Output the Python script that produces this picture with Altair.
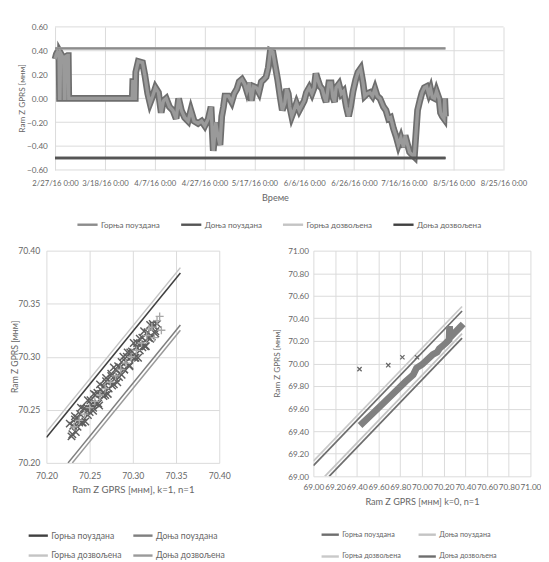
import altair as alt
import pandas as pd

FONT = "Lato"
TEXT = "#666666"
GRID = "#d9d9d9"

limit_names = ["Горња поуздана", "Доња поуздана", "Горња дозвољена", "Доња дозвољена"]
y_title = "Ram Z GPRS [мнм]"

# ---------------- top panel (time series) ----------------
ts_days = [0, 0.5, 1, 1.6, 1.8, 2.0, 2.2, 3.0, 3.5, 3.7, 4.0, 4.2, 5.0, 5.3, 5.5,
           31.0, 31.2, 31.6, 31.8, 32.2, 32.4, 33.4, 35.1, 36, 37.2, 38.1, 39.2, 40.3,
           41.5, 42.6, 43.5, 44.6, 45.9, 47.3, 48.6, 49.6, 50.7, 52, 53.4, 54.5, 55.8,
           57.4, 58.8, 60.1, 61.5, 62.6, 63.5, 64.5, 65.3, 66.2, 66.9, 67.6, 68.2, 69.6,
           70.9, 71.9, 73, 73.9, 75, 76.1, 77, 78, 78.8, 79.7, 80.8, 81.8, 82.8, 83.8,
           84.7, 85.6, 86.4, 87.4, 88.4, 89.4, 90.3, 91.2, 92.2, 92.9, 93.6, 94.2, 95,
           95.9, 96.9, 98, 99, 100, 100.9, 102, 103.1, 104, 104.7, 105.4, 106.4, 107.2,
           108.1, 108.8, 109.9, 110.8, 111.5, 112.2, 112.8, 113.9, 114.9, 115.8, 116.9,
           117.8, 118.6, 119.6, 120.7, 121.6, 122.6, 123.6, 124.3, 125.3, 126.4, 127.4,
           128.4, 129.3, 130.4, 131.8, 132.8, 133.8, 134.7, 135.8, 136.9, 137.8, 138.8,
           139.9, 140.5, 141.5, 142.3, 143.2, 144.2, 144.9, 145.5, 146.4, 147.3, 148.2,
           149.1, 150, 150.7, 151.4, 152.3, 153.1, 154.1, 154.7, 155.4, 156.1, 156.4, 156.7]
ts_vals = [0.33, 0.37, 0.39, 0.38, 0.0, 0.0, 0.38, 0.35, 0.30, 0.0, 0.0, 0.35, 0.36, 0.36, 0.0,
           0.0, 0.14, 0.14, 0.0, 0.0, 0.22, 0.31, 0.30, 0.20, 0.04, -0.04, 0.02, 0.09,
           0.05, -0.12, -0.02, 0.0, -0.07, -0.10, -0.17, 0.0, -0.10, -0.16, -0.19, -0.10, -0.19,
           -0.21, -0.19, -0.23, -0.17, -0.07, -0.44, -0.20, -0.31, -0.39, -0.15, -0.07, 0.02, 0.02,
           -0.03, 0.04, 0.08, 0.14, 0.16, 0.12, 0.06, 0.13, -0.02, 0.10, 0.09, 0.05, 0.14, 0.16,
           0.18, 0.26, 0.40, 0.39, 0.27, 0.15, 0.02, -0.10, -0.04, 0.08, 0.04, -0.07, -0.15,
           -0.10, -0.04, -0.10, -0.06, -0.02, 0.05, 0.09, 0.04, 0.09, 0.21, 0.16, 0.10, 0.08,
           0.01, -0.03, 0.13, 0.13, 0.01, -0.03, 0.09, 0.12, 0.04, 0.06, -0.07,
           -0.15, -0.07, 0.06, 0.16, 0.22, 0.25, 0.13, 0.02, 0.04, 0.05, 0.02,
           0.08, 0.02, 0.0, -0.07, -0.10, -0.17, -0.16, -0.25, -0.32, -0.39, -0.33,
           -0.41, -0.31, -0.39, -0.45, -0.47, -0.49, -0.28, -0.10, -0.02, 0.05, 0.09,
           0.10, 0.04, 0.08, 0.01, 0.0, 0.06, 0.0, -0.12, -0.15, -0.17, 0.0, -0.15]
top_limit_values = [0.42, -0.50, 0.42, -0.50]
top_limit_end_day = 156.7
top_colors = ["#8c8c8c", "#555555", "#c4c4c4", "#404040"]
top_tick_days = [0, 20, 40, 60, 80, 100, 120, 140, 160, 180]
top_y_ticks = [-0.6, -0.4, -0.2, 0.0, 0.2, 0.4, 0.6]

start = pd.Timestamp("2016-02-27")
top_df = pd.DataFrame({"date": [start + pd.Timedelta(days=d) for d in ts_days], "val": ts_vals})
top_lim_df = pd.DataFrame({
    "name": limit_names,
    "value": top_limit_values,
    "start": [start] * 4,
    "end": [start + pd.Timedelta(days=top_limit_end_day)] * 4,
}).iloc[[2, 3, 0, 1]]
top_grid_df = pd.DataFrame({"value": top_y_ticks, "start": [start] * 7,
                            "end": [start + pd.Timedelta(days=top_tick_days[-1])] * 7})

tick_dates = [start + pd.Timedelta(days=d) for d in top_tick_days]
tick_dt = [alt.DateTime(year=t.year, month=t.month, date=t.day) for t in tick_dates]

# the plot area starts a little before the first tick (as in the original Excel layout)
x_scale_top = alt.Scale(domain=[alt.DateTime(year=2016, month=2, date=23, hours=12, minutes=48),
                                tick_dt[-1]])
x_axis_top = alt.Axis(values=tick_dt, format="%-m/%-d/%y %-H:%M", labelOverlap=False,
                      labelFlush=False, labelFontSize=8, labelPadding=10, title="Време",
                      titleFontSize=9.5, titlePadding=6, grid=True)
y_scale_top = alt.Scale(domain=[-0.6, 0.6], nice=False)
y_axis_top = alt.Axis(values=top_y_ticks, format=".2f", labelFontSize=8.5, labelPadding=-1,
                      title=None, grid=False)

anchor_top = alt.Chart(pd.DataFrame({"k": [0]})).mark_rule(strokeOpacity=0).encode(
    x=alt.value(-40), x2=alt.value(-39), y=alt.value(60))
top_ytitle = alt.Chart(pd.DataFrame({"k": [0]})).mark_text(
    text=y_title, angle=270, fontSize=8.5, color=TEXT, align="center", baseline="middle").encode(
    x=alt.value(-25.3), y=alt.value(74.5))

top_grid = alt.Chart(top_grid_df).mark_rule(strokeWidth=1, color=GRID).encode(
    x=alt.X("start:T", scale=x_scale_top, axis=x_axis_top),
    x2="end:T",
    y=alt.Y("value:Q", scale=y_scale_top, axis=y_axis_top),
)
top_rules = alt.Chart(top_lim_df).mark_rule(strokeWidth=2.5).encode(
    x=alt.X("start:T", scale=x_scale_top, axis=x_axis_top),
    x2="end:T",
    y=alt.Y("value:Q", scale=y_scale_top, axis=y_axis_top),
    color=alt.Color("name:N", scale=alt.Scale(domain=limit_names, range=top_colors),
                    legend=alt.Legend(orient="none", legendX=30.8, legendY=194, direction="horizontal",
                                      title=None, symbolType="stroke", symbolSize=441,
                                      symbolStrokeWidth=2.5, labelFontSize=8.4, labelOffset=2,
                                      columnPadding=16, padding=0)),
)
top_line_dark = alt.Chart(top_df).mark_line(strokeWidth=7, color="#6e6e6e").encode(
    x=alt.X("date:T", scale=x_scale_top, axis=x_axis_top),
    y=alt.Y("val:Q", scale=y_scale_top, axis=y_axis_top),
)
top_line_light = alt.Chart(top_df).mark_line(strokeWidth=3.5, color="#9a9a9a").encode(
    x=alt.X("date:T", scale=x_scale_top, axis=x_axis_top),
    y=alt.Y("val:Q", scale=y_scale_top, axis=y_axis_top),
)
top = alt.layer(anchor_top, top_ytitle, top_grid, top_line_dark, top_line_light,
                top_rules).properties(width=476, height=149)

# ---------------- bottom-left panel ----------------
bl_ticks = [70.20, 70.25, 70.30, 70.35, 70.40]
bl_dark_x = [70.227, 70.229, 70.231, 70.233, 70.234, 70.236, 70.238, 70.240, 70.241, 70.243,
             70.245, 70.247, 70.248, 70.250, 70.252, 70.254, 70.255, 70.257, 70.259, 70.261,
             70.262, 70.264, 70.266, 70.268, 70.269, 70.271, 70.273, 70.275, 70.276, 70.278,
             70.280, 70.282, 70.283, 70.285, 70.287, 70.289, 70.290, 70.292, 70.294, 70.296,
             70.297, 70.299, 70.301, 70.303, 70.304, 70.306, 70.308, 70.310, 70.311, 70.313,
             70.315, 70.317, 70.318, 70.320, 70.322, 70.324, 70.326, 70.328]
bl_dark_y = [70.237, 70.225, 70.235, 70.244, 70.229, 70.242, 70.238, 70.252, 70.238, 70.251,
             70.239, 70.252, 70.259, 70.248, 70.255, 70.249, 70.265, 70.256, 70.266, 70.254,
             70.274, 70.265, 70.272, 70.264, 70.280, 70.265, 70.277, 70.284, 70.273, 70.290,
             70.280, 70.276, 70.291, 70.290, 70.283, 70.300, 70.288, 70.295, 70.304, 70.291,
             70.304, 70.300, 70.313, 70.299, 70.309, 70.299, 70.317, 70.312, 70.309, 70.324,
             70.310, 70.323, 70.318, 70.330, 70.319, 70.329, 70.322, 70.331]
bl_mid_x = [70.230, 70.233, 70.236, 70.239, 70.242, 70.245, 70.248, 70.251, 70.254, 70.257,
            70.260, 70.263, 70.266, 70.269, 70.272, 70.275, 70.278, 70.281, 70.284, 70.287,
            70.290, 70.293, 70.296, 70.299, 70.302, 70.305, 70.308, 70.311, 70.314, 70.317,
            70.320, 70.323, 70.326]
bl_mid_y = [70.227, 70.241, 70.234, 70.246, 70.238, 70.251, 70.245, 70.259, 70.252, 70.264,
            70.256, 70.269, 70.263, 70.277, 70.270, 70.282, 70.274, 70.287, 70.281, 70.295,
            70.288, 70.300, 70.292, 70.305, 70.299, 70.313, 70.306, 70.318, 70.310, 70.323,
            70.317, 70.331, 70.324]
bl_light_x = [70.232, 70.238, 70.244, 70.250, 70.256, 70.262, 70.268, 70.274, 70.280, 70.286,
              70.292, 70.298, 70.304, 70.310, 70.316, 70.322, 70.328, 70.331, 70.325, 70.319, 70.333]
bl_light_y = [70.234, 70.240, 70.246, 70.252, 70.258, 70.264, 70.270, 70.276, 70.282, 70.288,
              70.294, 70.300, 70.306, 70.313, 70.320, 70.328, 70.334, 70.338, 70.318, 70.326, 70.325]
bl_lim_x0 = [70.200, 70.225, 70.200, 70.230]
bl_lim_y0 = [70.224, 70.200, 70.229, 70.200]
bl_lim_x1 = [70.355, 70.355, 70.355, 70.355]
bl_lim_y1 = [70.379, 70.330, 70.384, 70.325]
bl_colors = ["#404040", "#7f7f7f", "#c4c4c4", "#9a9a9a"]

bl_lim_df = pd.DataFrame({"name": limit_names, "x0": bl_lim_x0, "y0": bl_lim_y0,
                          "x1": bl_lim_x1, "y1": bl_lim_y1}).iloc[[2, 0, 1, 3]]
bl_dark_df = pd.DataFrame({"x": bl_dark_x + bl_mid_x, "y": bl_dark_y + bl_mid_y})
bl_light_df = pd.DataFrame({"x": bl_light_x, "y": bl_light_y})

bl_xs = alt.Scale(domain=[70.20, 70.40], nice=False)
bl_ys = alt.Scale(domain=[70.20, 70.40], nice=False)
bl_xa = alt.Axis(values=bl_ticks, format=".2f", labelFontSize=9, labelPadding=9, grid=True,
                 title="Ram Z GPRS [мнм], k=1, n=1", titleFontSize=10, titlePadding=5, labelFlush=False)
bl_ya = alt.Axis(values=bl_ticks, format=".2f", labelFontSize=9, labelPadding=7, grid=True,
                 title=None)

X_PATH = "M-1,-1L1,1M-1,1L1,-1"
P_PATH = "M-1,0L1,0M0,-1L0,1"

anchor_bl = alt.Chart(pd.DataFrame({"k": [0]})).mark_rule(strokeOpacity=0).encode(
    x=alt.value(-40), x2=alt.value(-39), y=alt.value(100))
bl_ytitle = alt.Chart(pd.DataFrame({"k": [0]})).mark_text(
    text=y_title, angle=270, fontSize=9, color=TEXT, align="center", baseline="middle").encode(
    x=alt.value(-33), y=alt.value(110.5))

bl_rules = alt.Chart(bl_lim_df).mark_rule(strokeWidth=1.6, clip=True).encode(
    x=alt.X("x0:Q", scale=bl_xs, axis=bl_xa), x2="x1:Q",
    y=alt.Y("y0:Q", scale=bl_ys, axis=bl_ya), y2="y1:Q",
    color=alt.Color("name:N", scale=alt.Scale(domain=limit_names, range=bl_colors),
                    legend=alt.Legend(orient="none", legendX=-20, legendY=285, direction="horizontal",
                                      columns=2, title=None, symbolType="stroke", symbolSize=400,
                                      symbolStrokeWidth=2.5, labelFontSize=9, labelOffset=2,
                                      columnPadding=6, rowPadding=4, padding=0)),
)
bl_dark = alt.Chart(bl_dark_df).mark_point(shape=X_PATH, size=60, filled=False, strokeWidth=1.5,
                                           color="#5e5e5e", opacity=1).encode(
    x=alt.X("x:Q", scale=bl_xs, axis=bl_xa), y=alt.Y("y:Q", scale=bl_ys, axis=bl_ya))
bl_light = alt.Chart(bl_light_df).mark_point(shape=P_PATH, size=70, filled=False, strokeWidth=1.4,
                                             color="#a8a8a8", opacity=1).encode(
    x=alt.X("x:Q", scale=bl_xs, axis=bl_xa), y=alt.Y("y:Q", scale=bl_ys, axis=bl_ya))
bottom_left = alt.layer(anchor_bl, bl_ytitle, bl_rules, bl_dark, bl_light).properties(width=180, height=221)

# ---------------- bottom-right panel ----------------
br_ticks = [69.0, 69.2, 69.4, 69.6, 69.8, 70.0, 70.2, 70.4, 70.6, 70.8, 71.0]
br_band_x = [69.43, 69.55, 69.70, 69.85, 69.92, 69.95, 70.00, 70.10, 70.14, 70.16, 70.22,
             70.25, 70.255, 70.26, 70.30, 70.35, 70.38]
br_band_y = [69.45, 69.56, 69.70, 69.84, 69.90, 69.96, 69.99, 70.08, 70.10, 70.13, 70.18,
             70.21, 70.33, 70.23, 70.27, 70.32, 70.35]
br_out_x = [69.425, 69.69, 69.82, 69.955]
br_out_y = [69.95, 69.985, 70.055, 70.055]
br_lim_x0 = [69.000, 69.105, 69.000, 69.145]
br_lim_y0 = [69.095, 69.000, 69.135, 69.000]
br_lim_x1 = [70.370, 70.370, 70.370, 70.370]
br_lim_y1 = [70.465, 70.265, 70.505, 70.225]
br_colors = ["#6e6e6e", "#c4c4c4", "#c9c9c9", "#6e6e6e"]

br_lim_df = pd.DataFrame({"name": limit_names, "x0": br_lim_x0, "y0": br_lim_y0,
                          "x1": br_lim_x1, "y1": br_lim_y1})
br_band_df = pd.DataFrame({"x": br_band_x, "y": br_band_y, "o": list(range(len(br_band_x)))})
br_out_df = pd.DataFrame({"x": br_out_x, "y": br_out_y})

br_xs = alt.Scale(domain=[69.0, 71.0], nice=False)
br_ys = alt.Scale(domain=[69.0, 71.0], nice=False)
br_xa = alt.Axis(values=br_ticks, format=".2f", labelFontSize=8.5, labelPadding=7, grid=True,
                 labelOverlap=False, labelFlush=False,
                 title="Ram Z GPRS [мнм] k=0, n=1", titleFontSize=9.5, titlePadding=6)
br_ya = alt.Axis(values=br_ticks, format=".2f", labelFontSize=8.5, labelPadding=5, grid=True,
                 labelOverlap=False, title=None)

br_ytitle = alt.Chart(pd.DataFrame({"k": [0]})).mark_text(
    text=y_title, angle=270, fontSize=8.5, color=TEXT, align="center", baseline="middle").encode(
    x=alt.value(-38), y=alt.value(117.5))
br_rules = alt.Chart(br_lim_df).mark_rule(strokeWidth=1.8, clip=True).encode(
    x=alt.X("x0:Q", scale=br_xs, axis=br_xa), x2="x1:Q",
    y=alt.Y("y0:Q", scale=br_ys, axis=br_ya), y2="y1:Q",
    color=alt.Color("name:N", scale=alt.Scale(domain=limit_names, range=br_colors),
                    legend=alt.Legend(orient="none", legendX=7, legendY=285, direction="horizontal",
                                      columns=2, title=None, symbolType="stroke", symbolSize=324,
                                      symbolStrokeWidth=2.5, labelFontSize=7.5, labelOffset=2,
                                      columnPadding=12, rowPadding=7, padding=0)),
)
br_band = alt.Chart(br_band_df).mark_line(strokeWidth=7, color="#808080").encode(
    x=alt.X("x:Q", scale=br_xs, axis=br_xa), y=alt.Y("y:Q", scale=br_ys, axis=br_ya), order="o:Q")
br_out = alt.Chart(br_out_df).mark_point(shape=X_PATH, size=20, filled=False, strokeWidth=1.3,
                                         color="#666666", opacity=1).encode(
    x=alt.X("x:Q", scale=br_xs, axis=br_xa), y=alt.Y("y:Q", scale=br_ys, axis=br_ya))
bottom_right = alt.layer(br_ytitle, br_rules, br_band, br_out).properties(width=226, height=235)

bottom = alt.hconcat(bottom_left, bottom_right, spacing=44).resolve_scale(color="independent")

chart = alt.vconcat(top, bottom, spacing=18).resolve_scale(color="independent").properties(
    padding={"left": 0, "top": 4, "right": 0, "bottom": 0}
).configure(font=FONT).configure_axis(
    labelFont=FONT, titleFont=FONT, labelColor=TEXT, titleColor=TEXT, gridColor=GRID,
    gridWidth=1, domain=False, ticks=False, titleFontWeight="normal"
).configure_text(font=FONT).configure_legend(labelFont=FONT, labelColor=TEXT).configure_view(stroke=None)

chart.save("out.html", embed_options={"renderer": "svg", "actions": False})
